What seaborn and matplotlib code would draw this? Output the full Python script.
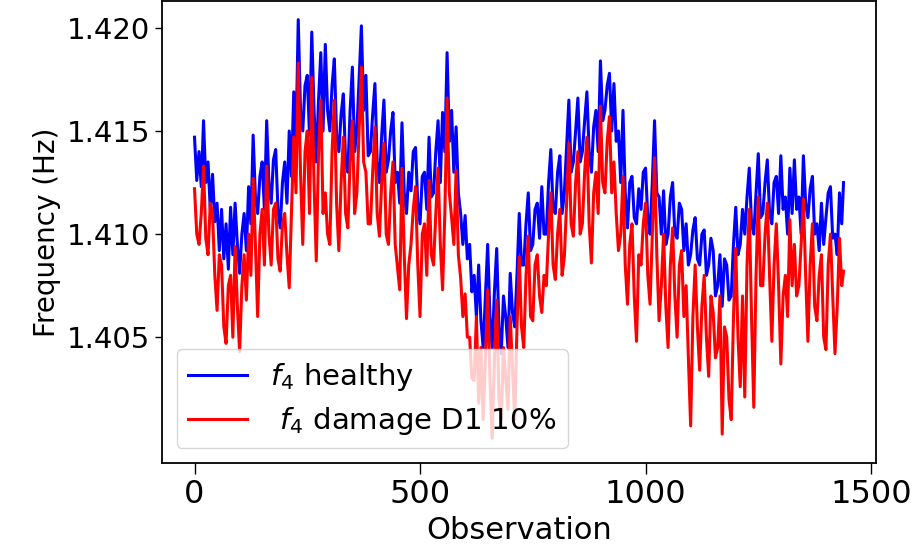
import numpy as np
import pandas as pd
import matplotlib
matplotlib.use("Agg")
import matplotlib.pyplot as plt
import seaborn as sns
from matplotlib.ticker import FormatStrFormatter

# observation index (one reading every 5 observations, plus the last one)
obs = np.append(np.arange(0, 1440, 5), 1439)

healthy = [
    1.4147, 1.4126, 1.4140, 1.4123, 1.4155, 1.4125, 1.4135, 1.4112, 1.4129, 1.4106,
    1.4115, 1.4092, 1.4112, 1.4088, 1.4105, 1.4083, 1.4113, 1.4090, 1.4115, 1.4095,
    1.4081, 1.4100, 1.4110, 1.4092, 1.4123, 1.4105, 1.4148, 1.4118, 1.4110, 1.4128,
    1.4135, 1.4112, 1.4155, 1.4125, 1.4115, 1.4136, 1.4141, 1.4112, 1.4103, 1.4125,
    1.4135, 1.4115, 1.4150, 1.4128, 1.4169, 1.4145, 1.4204, 1.4160, 1.4150, 1.4172,
    1.4177, 1.4148, 1.4198, 1.4160, 1.4135, 1.4165, 1.4188, 1.4150, 1.4192, 1.4160,
    1.4150, 1.4172, 1.4185, 1.4148, 1.4140, 1.4158, 1.4168, 1.4135, 1.4130, 1.4160,
    1.4181, 1.4140, 1.4150, 1.4175, 1.4201, 1.4160, 1.4177, 1.4138, 1.4140, 1.4158,
    1.4173, 1.4135, 1.4125, 1.4148, 1.4165, 1.4130, 1.4136, 1.4150, 1.4159, 1.4125,
    1.4130, 1.4115, 1.4154, 1.4120, 1.4110, 1.4130, 1.4121, 1.4140, 1.4142, 1.4115,
    1.4105, 1.4128, 1.4130, 1.4112, 1.4147, 1.4118, 1.4120, 1.4140, 1.4155, 1.4125,
    1.4159, 1.4140, 1.4188, 1.4145, 1.4160, 1.4130, 1.4152, 1.4120, 1.4110, 1.4095,
    1.4109, 1.4088, 1.4095, 1.4072, 1.4080, 1.4060, 1.4085, 1.4058, 1.4045, 1.4070,
    1.4095, 1.4060, 1.4045, 1.4072, 1.4093, 1.4055, 1.4042, 1.4070, 1.4060, 1.4045,
    1.4081, 1.4062, 1.4055, 1.4080, 1.4110, 1.4085, 1.4085, 1.4105, 1.4120, 1.4092,
    1.4095, 1.4112, 1.4115, 1.4098, 1.4123, 1.4100, 1.4100, 1.4125, 1.4141, 1.4112,
    1.4110, 1.4130, 1.4138, 1.4110, 1.4120, 1.4142, 1.4165, 1.4130, 1.4135, 1.4150,
    1.4166, 1.4135, 1.4140, 1.4155, 1.4169, 1.4140, 1.4130, 1.4152, 1.4160, 1.4140,
    1.4184, 1.4155, 1.4160, 1.4172, 1.4178, 1.4150, 1.4173, 1.4145, 1.4150, 1.4125,
    1.4160, 1.4120, 1.4103, 1.4125, 1.4128, 1.4108, 1.4105, 1.4122, 1.4112, 1.4130,
    1.4132, 1.4108, 1.4100, 1.4125, 1.4155, 1.4120, 1.4118, 1.4100, 1.4121, 1.4095,
    1.4100, 1.4118, 1.4125, 1.4100, 1.4098, 1.4115, 1.4112, 1.4092, 1.4105, 1.4085,
    1.4090, 1.4102, 1.4108, 1.4088, 1.4085, 1.4100, 1.4102, 1.4080, 1.4085, 1.4098,
    1.4092, 1.4070, 1.4075, 1.4090, 1.4065, 1.4088, 1.4085, 1.4068, 1.4070, 1.4095,
    1.4113, 1.4090, 1.4095, 1.4112, 1.4100, 1.4118, 1.4132, 1.4105, 1.4100, 1.4120,
    1.4139, 1.4108, 1.4110, 1.4125, 1.4136, 1.4110, 1.4105, 1.4125, 1.4128, 1.4110,
    1.4138, 1.4112, 1.4118, 1.4100, 1.4132, 1.4110, 1.4136, 1.4112, 1.4118, 1.4100,
    1.4138, 1.4115, 1.4108, 1.4122, 1.4128, 1.4100, 1.4105, 1.4092, 1.4115, 1.4095,
    1.4108, 1.4120, 1.4123, 1.4098, 1.4100, 1.4090, 1.4120, 1.4105, 1.4125,
]

damage = [
    1.4122, 1.4100, 1.4095, 1.4110, 1.4133, 1.4098, 1.4090, 1.4115, 1.4110, 1.4080,
    1.4063, 1.4090, 1.4085, 1.4055, 1.4047, 1.4075, 1.4080, 1.4050, 1.4094, 1.4065,
    1.4043, 1.4075, 1.4090, 1.4068, 1.4100, 1.4080, 1.4127, 1.4095, 1.4060, 1.4100,
    1.4112, 1.4085, 1.4133, 1.4100, 1.4085, 1.4112, 1.4115, 1.4088, 1.4082, 1.4105,
    1.4110, 1.4090, 1.4074, 1.4110, 1.4147, 1.4120, 1.4183, 1.4130, 1.4095, 1.4140,
    1.4150, 1.4110, 1.4176, 1.4125, 1.4087, 1.4140, 1.4165, 1.4110, 1.4120, 1.4100,
    1.4095, 1.4140, 1.4165, 1.4115, 1.4092, 1.4125, 1.4147, 1.4110, 1.4103, 1.4135,
    1.4155, 1.4110, 1.4120, 1.4150, 1.4181, 1.4135, 1.4130, 1.4105, 1.4105, 1.4130,
    1.4152, 1.4110, 1.4099, 1.4125, 1.4144, 1.4100, 1.4095, 1.4120, 1.4135, 1.4095,
    1.4084, 1.4073, 1.4132, 1.4090, 1.4059, 1.4085, 1.4095, 1.4112, 1.4123, 1.4085,
    1.4060, 1.4100, 1.4105, 1.4080, 1.4126, 1.4090, 1.4085, 1.4110, 1.4132, 1.4095,
    1.4073, 1.4110, 1.4166, 1.4120, 1.4108, 1.4095, 1.4131, 1.4090, 1.4079, 1.4060,
    1.4071, 1.4050, 1.4050, 1.4030, 1.4029, 1.4060, 1.4018, 1.4045, 1.4010, 1.4040,
    1.4073, 1.4030, 1.4001, 1.4040, 1.4068, 1.4020, 1.4010, 1.4045, 1.4030, 1.4015,
    1.4060, 1.4035, 1.4010, 1.4055, 1.4089, 1.4055, 1.4045, 1.4080, 1.4099, 1.4060,
    1.4058, 1.4085, 1.4090, 1.4070, 1.4062, 1.4080, 1.4075, 1.4100, 1.4120, 1.4085,
    1.4078, 1.4100, 1.4112, 1.4080, 1.4089, 1.4115, 1.4144, 1.4105, 1.4099, 1.4125,
    1.4140, 1.4100, 1.4105, 1.4130, 1.4147, 1.4105, 1.4086, 1.4120, 1.4130, 1.4110,
    1.4162, 1.4125, 1.4120, 1.4145, 1.4157, 1.4120, 1.4135, 1.4110, 1.4092, 1.4100,
    1.4128, 1.4085, 1.4066, 1.4095, 1.4105, 1.4070, 1.4048, 1.4090, 1.4085, 1.4105,
    1.4115, 1.4080, 1.4066, 1.4100, 1.4137, 1.4090, 1.4058, 1.4075, 1.4100, 1.4065,
    1.4045, 1.4085, 1.4103, 1.4070, 1.4050, 1.4085, 1.4092, 1.4060, 1.4075, 1.4040,
    1.4007, 1.4060, 1.4085, 1.4055, 1.4034, 1.4065, 1.4080, 1.4050, 1.4031, 1.4070,
    1.4062, 1.4040, 1.4045, 1.4070, 1.4003, 1.4055, 1.4050, 1.4020, 1.4010, 1.4060,
    1.4093, 1.4050, 1.4026, 1.4070, 1.4021, 1.4085, 1.4112, 1.4060, 1.4016, 1.4080,
    1.4118, 1.4075, 1.4075, 1.4100, 1.4115, 1.4080, 1.4048, 1.4085, 1.4105, 1.4075,
    1.4037, 1.4070, 1.4080, 1.4060, 1.4107, 1.4075, 1.4095, 1.4070, 1.4075, 1.4095,
    1.4117, 1.4080, 1.4048, 1.4085, 1.4105, 1.4065, 1.4058, 1.4080, 1.4090, 1.4050,
    1.4044, 1.4085, 1.4100, 1.4070, 1.4042, 1.4065, 1.4098, 1.4075, 1.4082,
]

y_ticks = [1.405, 1.410, 1.415, 1.420]
x_ticks = [0, 500, 1000, 1500]

labels = [r"$f_4$ healthy", r" $f_4$ damage D1 10%"]
colors = ["blue", "red"]

df = pd.DataFrame({"obs": obs, "healthy": healthy, "damage": damage})

plt.rcParams["font.family"] = ["DejaVu Sans"]
fig = plt.figure(figsize=(9.17, 5.54), dpi=100)
ax = fig.add_axes([0.1767, 0.1643, 0.7786, 0.8337])

sns.lineplot(data=df, x="obs", y="healthy", ax=ax, color=colors[0], lw=2.2, label=labels[0])
sns.lineplot(data=df, x="obs", y="damage", ax=ax, color=colors[1], lw=2.2, label=labels[1])

ax.set_xlim(-72, 1511)
ax.set_ylim(1.3989, 1.4213)
ax.set_xticks(x_ticks)
ax.set_yticks(y_ticks)
ax.yaxis.set_major_formatter(FormatStrFormatter("%.3f"))
ax.tick_params(axis="y", labelsize=21, length=5, width=1)
ax.tick_params(axis="x", labelsize=23, length=8, width=1)
ax.set_xlabel("Observation", fontsize=22)
ax.set_ylabel("Frequency (Hz)", fontsize=20)
for s in ax.spines.values():
    s.set_linewidth(1.3)

ax.legend(loc="lower left", fontsize=21, handlelength=2.0, labelspacing=0.4)

fig.savefig("out.png", dpi=100)
